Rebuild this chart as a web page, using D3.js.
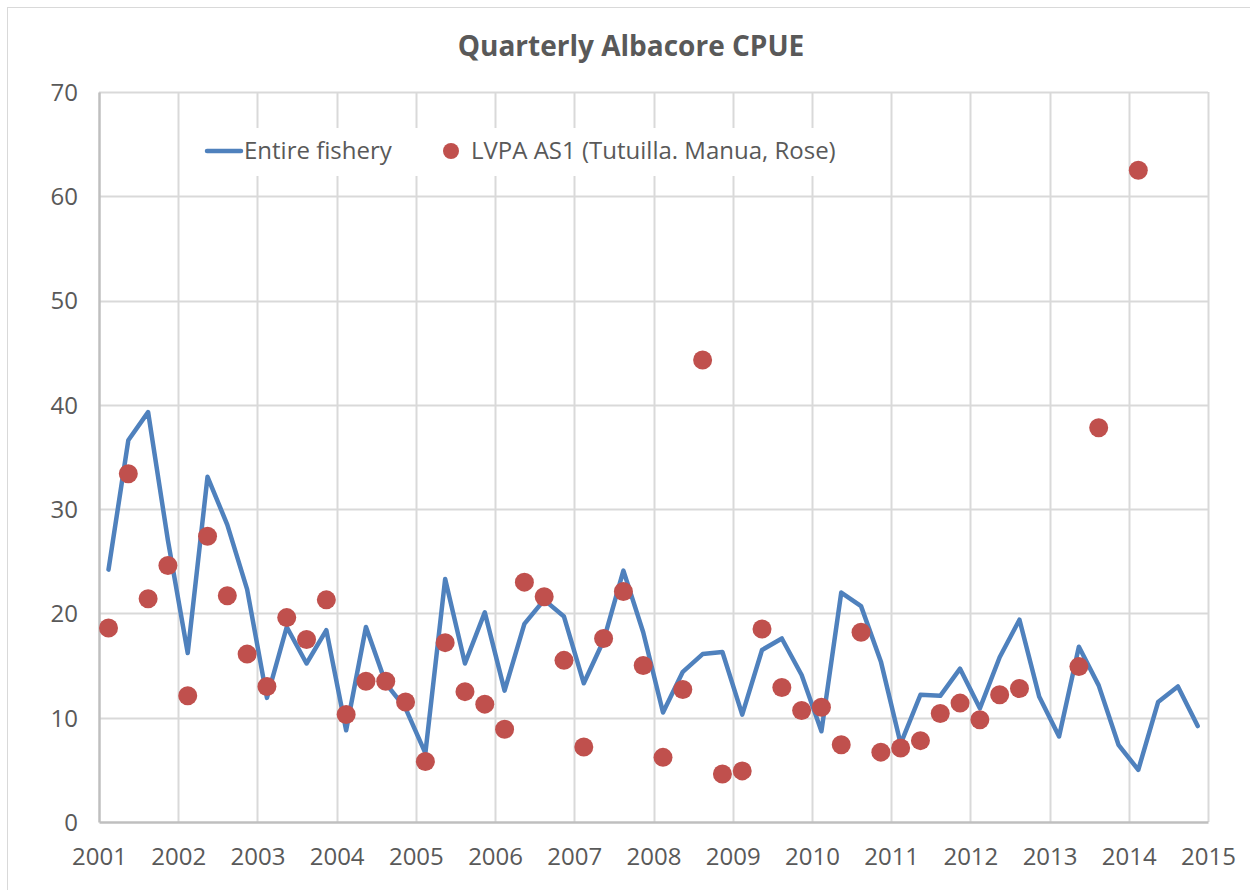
<!DOCTYPE html>
<html>
<head>
<meta charset="utf-8">
<script src="https://cdn.jsdelivr.net/npm/d3@7"></script>
<style>
  body { margin: 0; background: #fff; }
  text { font-family: "Open Sans", "Liberation Sans", sans-serif; fill: #595959; }
</style>
</head>
<body>
<div id="chart-area"></div>
<script>
// Data: one value per quarter, 2001 Q1 .. 2014 Q4
var years = d3.range(2001, 2015);
var quarters = [1, 2, 3, 4];
var entireFishery = [
  24.2, 36.6, 39.3, 27.0,
  16.2, 33.1, 28.5, 22.3,
  11.9, 18.7, 15.2, 18.4,
   8.8, 18.7, 13.3, 10.9,
   6.6, 23.3, 15.2, 20.1,
  12.6, 19.0, 21.3, 19.7,
  13.3, 17.4, 24.1, 18.2,
  10.5, 14.4, 16.1, 16.3,
  10.3, 16.5, 17.6, 14.1,
   8.7, 22.0, 20.7, 15.4,
   7.5, 12.2, 12.1, 14.7,
  10.9, 15.8, 19.4, 12.0,
   8.2, 16.8, 13.1,  7.4,
   5.0, 11.5, 13.0,  9.2
];
var lvpaAS1 = [
  18.6, 33.4, 21.4, 24.6,
  12.1, 27.4, 21.7, 16.1,
  13.0, 19.6, 17.5, 21.3,
  10.3, 13.5, 13.5, 11.5,
   5.8, 17.2, 12.5, 11.3,
   8.9, 23.0, 21.6, 15.5,
   7.2, 17.6, 22.1, 15.0,
   6.2, 12.7, 44.3,  4.6,
   4.9, 18.5, 12.9, 10.7,
  11.0,  7.4, 18.2,  6.7,
   7.1,  7.8, 10.4, 11.4,
   9.8, 12.2, 12.8, null,
  null, 14.9, 37.8, null,
  62.5, null, null, null
];
var yTicks = [0, 10, 20, 30, 40, 50, 60, 70];
var xTicks = d3.range(2001, 2016);
var seriesNames = ["Entire fishery", "LVPA AS1 (Tutuilla. Manua, Rose)"];

var width = 1250, height = 890;
var plot = {left: 99, right: 1208, top: 92, bottom: 822};

var rows = [];
years.forEach(function(yr, i) {
  quarters.forEach(function(q, j) {
    var k = i * 4 + j;
    rows.push({t: yr + 0.12 + 0.25 * (q - 1), fishery: entireFishery[k], lvpa: lvpaAS1[k]});
  });
});

var svg = d3.select("#chart-area").append("svg").attr("width", width).attr("height", height);

// chart border
svg.append("rect").attr("x", 7.5).attr("y", 7.5).attr("width", width + 10).attr("height", height + 10)
  .attr("fill", "white").attr("stroke", "#d9d9d9").attr("stroke-width", 1);

var x = d3.scaleLinear().domain([2001, 2015]).range([plot.left, plot.right]);
var y = d3.scaleLinear().domain([0, 70]).range([plot.bottom, plot.top]);

// Gridlines
var grid = svg.append("g");
grid.selectAll(".hgrid").data(yTicks.slice(1)).enter().append("line")
  .attr("x1", plot.left).attr("x2", plot.right)
  .attr("y1", function(d) { return Math.round(y(d)) + 0.5; })
  .attr("y2", function(d) { return Math.round(y(d)) + 0.5; })
  .attr("stroke", "#d9d9d9").attr("stroke-width", 2);
grid.selectAll(".vgrid").data(xTicks.slice(1)).enter().append("line")
  .attr("x1", function(d) { return Math.round(x(d)) + 0.5; })
  .attr("x2", function(d) { return Math.round(x(d)) + 0.5; })
  .attr("y1", plot.top).attr("y2", plot.bottom)
  .attr("stroke", "#d9d9d9").attr("stroke-width", 2);

// Axes
var yAxis = d3.axisLeft(y).tickValues(yTicks).tickSize(0).tickPadding(21);
var yAxisGroup = svg.append("g").attr("transform", "translate(" + plot.left + ",0)").call(yAxis);
yAxisGroup.select(".domain").attr("stroke", "#bfbfbf").attr("stroke-width", 2.5);
yAxisGroup.selectAll("text").style("font-size", "24px").attr("dy", "0.35em");

var xAxis = d3.axisBottom(x).tickValues(xTicks).tickFormat(d3.format("d")).tickSize(0).tickPadding(26);
var xAxisGroup = svg.append("g").attr("transform", "translate(0," + plot.bottom + ")").call(xAxis);
xAxisGroup.select(".domain").attr("stroke", "#bfbfbf").attr("stroke-width", 2.5);
xAxisGroup.selectAll("text").style("font-size", "24px");

// Legend background (hides gridlines behind it)
var legend = svg.append("g");
legend.append("rect").attr("x", 196).attr("y", 128).attr("width", 676).attr("height", 48).attr("fill", "white");

// Series: line
var line = d3.line().x(function(d) { return x(d.t); }).y(function(d) { return y(d.fishery); });
svg.append("path").datum(rows).attr("d", line)
  .attr("fill", "none").attr("stroke", "#4f81bd").attr("stroke-width", 4.5)
  .attr("stroke-linejoin", "round").attr("stroke-linecap", "round");

// Series: dots
svg.selectAll(".dot").data(rows.filter(function(d) { return d.lvpa !== null; })).enter().append("circle")
  .attr("cx", function(d) { return x(d.t); }).attr("cy", function(d) { return y(d.lvpa); })
  .attr("r", 9.5).attr("fill", "#c0504d");

// Legend items
legend.append("line").attr("x1", 207).attr("x2", 241).attr("y1", 151).attr("y2", 151)
  .attr("stroke", "#4f81bd").attr("stroke-width", 4.5).attr("stroke-linecap", "round");
legend.append("text").attr("x", 244).attr("y", 151).attr("dy", "0.35em").style("font-size", "24px").text(seriesNames[0]);
legend.append("circle").attr("cx", 451).attr("cy", 151).attr("r", 8).attr("fill", "#c0504d");
legend.append("text").attr("x", 471).attr("y", 151).attr("dy", "0.35em").style("font-size", "24px").text(seriesNames[1]);

// Title
svg.append("text").attr("x", 631).attr("y", 46).attr("dy", "0.35em").attr("text-anchor", "middle")
  .style("font-size", "28px").style("font-weight", "bold").text("Quarterly Albacore CPUE");
</script>
</body>
</html>
